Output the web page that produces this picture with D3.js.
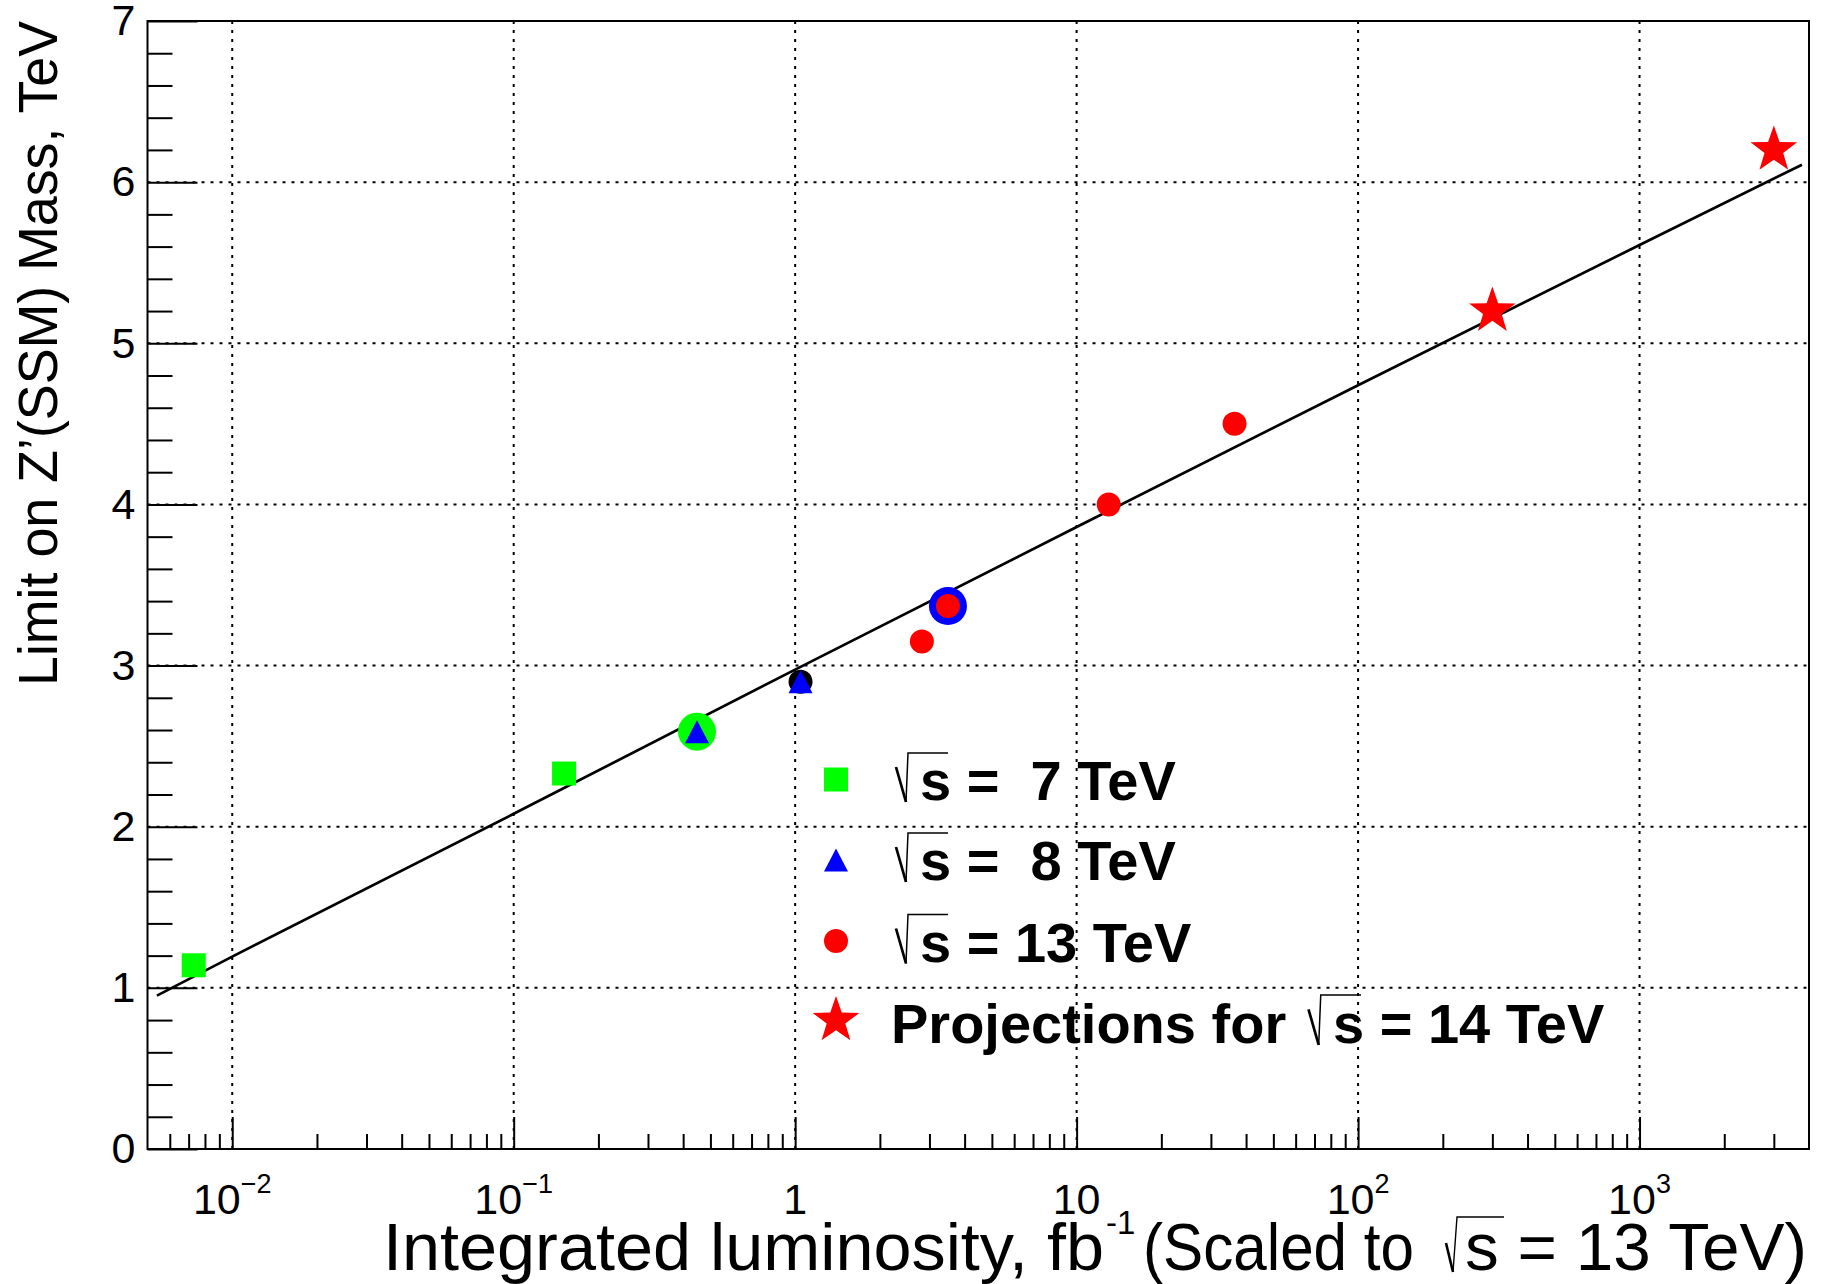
<!DOCTYPE html>
<html>
<head>
<meta charset="utf-8">
<script src="https://cdn.jsdelivr.net/npm/d3@7"></script>
<style>
  body { margin: 0; background: #fff; }
  svg text { font-family: "Liberation Sans", Arial, Helvetica, sans-serif; }
</style>
</head>
<body>
<svg id="chart" width="1823" height="1284"></svg>
<script>
// Z'(SSM) mass limits versus integrated luminosity (scaled to sqrt(s) = 13 TeV)
const lumi7 = [0.0073, 0.151];
const limit7 = [1.14, 2.33];
const lumi8 = [0.448, 1.045];
const limit8 = [2.59, 2.90];
const lumi13 = [2.82, 3.49, 13.0, 36.4];
const limit13 = [3.15, 3.37, 4.00, 4.50];
const lumi14 = [300, 3000];
const limit14 = [5.20, 6.20];

// encircled results (big green ring, black dot, big blue ring)
const ringLumi = [0.448, 1.045, 3.49];
const ringLimit = [2.59, 2.90, 3.37];
const ringKind = ["green", "black", "blue"];

// trend curve through the limits
const fitLumi = [0.0054, 0.01, 0.1, 1, 10, 100, 1000, 3776];
const fitLimit = [0.952, 1.194, 2.08, 2.975, 3.86, 4.74, 5.61, 6.108];

// axis ticks
const decadeExp = [-2, -1, 0, 1, 2, 3];
const decadeBase = ["10", "10", "1", "10", "10", "10"];
const decadeSup = ["\u22122", "\u22121", "", "", "2", "3"];
const yTicks = [0, 1, 2, 3, 4, 5, 6, 7];

// legend
const legendEnergy = [" 7", " 8", "13", "14"];

const svg = d3.select("#chart");
const L = 147.5, R = 1809, T = 21, B = 1149;

const x = d3.scaleLog().domain([0.005, 4000]).range([L, R]);
const y = d3.scaleLinear().domain([0, 7]).range([B, T]);

// ---- grid ----
const grid = svg.append("g").attr("stroke", "#000").attr("stroke-width", 2)
  .attr("stroke-dasharray", "3 6");
grid.selectAll("line.gx").data(decadeExp).join("line")
  .attr("x1", d => x(Math.pow(10, d))).attr("x2", d => x(Math.pow(10, d)))
  .attr("y1", B).attr("y2", T);
grid.selectAll("line.gy").data(yTicks.filter(v => v > 0 && v < 7)).join("line")
  .attr("class", "gy")
  .attr("x1", L).attr("x2", R)
  .attr("y1", d => y(d)).attr("y2", d => y(d));

// ---- trend curve ----
const fitPts = fitLumi.map((v, i) => [v, fitLimit[i]]);
svg.append("path").datum(fitPts)
  .attr("fill", "none").attr("stroke", "#000").attr("stroke-width", 2.7)
  .attr("d", d3.line().x(d => x(d[0])).y(d => y(d[1])));

// ---- markers ----
const zip = (a, b) => a.map((v, i) => [v, b[i]]);
const ringColor = { green: "#00ff00", black: "#000000", blue: "#0000ff" };
const ringRadius = { green: 19, black: 12, blue: 19 };

function trianglePath(cx, cy, w, h) {
  return `M${cx},${cy - h / 2}L${cx + w / 2},${cy + h / 2}L${cx - w / 2},${cy + h / 2}Z`;
}
function starPath(cx, cy, ro, ri) {
  let p = "";
  for (let k = 0; k < 10; k++) {
    const r = k % 2 === 0 ? ro : ri;
    const a = -Math.PI / 2 + k * Math.PI / 5;
    p += (k === 0 ? "M" : "L") + (cx + r * Math.cos(a)).toFixed(2) + "," + (cy + r * Math.sin(a)).toFixed(2);
  }
  return p + "Z";
}

const marks = svg.append("g");
// rings first, so the inner markers sit on top
marks.selectAll("circle.ring").data(ringLumi.map((v, i) => [v, ringLimit[i], ringKind[i]])).join("circle")
  .attr("cx", d => x(d[0])).attr("cy", d => y(d[1]))
  .attr("r", d => ringRadius[d[2]]).attr("fill", d => ringColor[d[2]]);

marks.selectAll("rect.s7").data(zip(lumi7, limit7)).join("rect")
  .attr("x", d => x(d[0]) - 12).attr("y", d => y(d[1]) - 12)
  .attr("width", 24).attr("height", 24).attr("fill", "#00ff00");

marks.selectAll("path.s8").data(zip(lumi8, limit8)).join("path")
  .attr("d", d => trianglePath(x(d[0]), y(d[1]), 24, 23)).attr("fill", "#0000ff");

marks.selectAll("circle.s13").data(zip(lumi13, limit13)).join("circle")
  .attr("cx", d => x(d[0])).attr("cy", d => y(d[1])).attr("r", 12).attr("fill", "#ff0000");

marks.selectAll("path.s14").data(zip(lumi14, limit14)).join("path")
  .attr("d", d => starPath(x(d[0]), y(d[1]), 24.5, 9.8)).attr("fill", "#ff0000");

// ---- frame ----
svg.append("rect").attr("x", L).attr("y", T).attr("width", R - L).attr("height", B - T)
  .attr("fill", "none").attr("stroke", "#000").attr("stroke-width", 2);

// ---- axes ticks ----
const minorX = [];
for (let e = -3; e <= 3; e++) for (let m = 2; m <= 9; m++) {
  const v = m * Math.pow(10, e);
  if (v > 0.005 && v < 4000) minorX.push(v);
}
function styleAxis(g) {
  g.select(".domain").remove();
  g.selectAll(".tick line").attr("stroke", "#000").attr("stroke-width", 2);
}
svg.append("g").attr("transform", `translate(0,${B})`)
  .call(d3.axisBottom(x).tickValues(decadeExp.map(e => Math.pow(10, e))).tickSize(-32).tickFormat(""))
  .call(styleAxis);
svg.append("g").attr("transform", `translate(0,${B})`)
  .call(d3.axisBottom(x).tickValues(minorX).tickSize(-15).tickFormat(""))
  .call(styleAxis);

const minorY = d3.range(0, 35).map(i => i * 0.2).filter((v, i) => i % 5 !== 0);
svg.append("g").attr("transform", `translate(${L},0)`)
  .call(d3.axisLeft(y).tickValues(minorY).tickSize(-25).tickFormat(""))
  .call(styleAxis);
const yAx = svg.append("g").attr("transform", `translate(${L},0)`)
  .call(d3.axisLeft(y).tickValues(yTicks).tickSize(-50).tickPadding(12).tickFormat(d3.format("d")))
  .call(styleAxis);
yAx.selectAll(".tick text").attr("font-size", 43).attr("fill", "#000")
  .attr("font-family", "'Liberation Sans', Arial, sans-serif");

// x tick labels with superscript exponents
const xl = svg.append("g");
decadeExp.forEach((e, i) => {
  const t = xl.append("text").attr("x", x(Math.pow(10, e))).attr("y", 1214)
    .attr("text-anchor", "middle").attr("font-size", 43).attr("fill", "#000");
  t.append("tspan").text(decadeBase[i]);
  if (decadeSup[i]) t.append("tspan").attr("font-size", 27).attr("dy", -21).text(decadeSup[i]);
});

// radical sign drawn as strokes
function radical(g, sx, base, h, w, lw) {
  g.append("path")
    .attr("d", `M${sx - 24 * h / 47},${base - 33 * h / 47}L${sx - 14 * h / 47},${base + 2}`)
    .attr("stroke", "#000").attr("stroke-width", lw * 1.8).attr("fill", "none");
  g.append("path")
    .attr("d", `M${sx - 14 * h / 47},${base + 2}L${sx - 12 * h / 47},${base - h}L${sx + w},${base - h}`)
    .attr("stroke", "#000").attr("stroke-width", lw).attr("fill", "none");
}

// ---- axis titles ----
svg.append("text")
  .attr("transform", "translate(57,21) rotate(-90)")
  .attr("text-anchor", "end").attr("font-size", 56)
  .attr("textLength", 665).attr("lengthAdjust", "spacingAndGlyphs")
  .text("Limit on Z\u2019(SSM) Mass, TeV");

const xt = svg.append("g");
xt.append("text").attr("x", 383).attr("y", 1270).attr("font-size", 66)
  .attr("textLength", 721).attr("lengthAdjust", "spacingAndGlyphs")
  .text("Integrated luminosity, fb");
xt.append("text").attr("x", 1106).attr("y", 1234).attr("font-size", 33)
  .text("-1");
xt.append("text").attr("x", 1143).attr("y", 1270).attr("font-size", 66)
  .attr("textLength", 271).attr("lengthAdjust", "spacingAndGlyphs")
  .text("(Scaled to");
xt.append("path")
  .attr("d", "M1446,1243L1453,1272").attr("stroke", "#000").attr("stroke-width", 2.6).attr("fill", "none");
xt.append("path")
  .attr("d", "M1453,1272L1457,1217L1504,1217").attr("stroke", "#000").attr("stroke-width", 1.4).attr("fill", "none");
xt.append("text").attr("x", 1465).attr("y", 1270).attr("font-size", 66)
  .attr("textLength", 342).attr("lengthAdjust", "spacingAndGlyphs")
  .text("s = 13 TeV)");

// ---- legend ----
const leg = svg.append("g");
const legMarkX = 836;
const rowBase = [800, 880, 961.5, 1043];
const rowMark = [779.5, 860, 941, 1020.5];

leg.append("rect").attr("x", legMarkX - 12).attr("y", rowMark[0] - 12)
  .attr("width", 24).attr("height", 24).attr("fill", "#00ff00");
leg.append("path").attr("d", trianglePath(legMarkX, rowMark[1], 24, 23)).attr("fill", "#0000ff");
leg.append("circle").attr("cx", legMarkX).attr("cy", rowMark[2]).attr("r", 12).attr("fill", "#ff0000");
leg.append("path").attr("d", starPath(legMarkX, rowMark[3], 24.5, 9.8)).attr("fill", "#ff0000");

for (let i = 0; i < 3; i++) {
  radical(leg, 920, rowBase[i], 47, 28, 1.5);
  leg.append("text").attr("x", 920).attr("y", rowBase[i])
    .attr("font-size", 56).attr("font-weight", "bold")
    .style("white-space", "pre")
    .text(`s = ${legendEnergy[i]} TeV`);
}
leg.append("text").attr("x", 891).attr("y", rowBase[3])
  .attr("font-size", 56).attr("font-weight", "bold")
  .text("Projections for");
radical(leg, 1333, rowBase[3], 48, 28, 1.5);
leg.append("text").attr("x", 1333).attr("y", rowBase[3])
  .attr("font-size", 56).attr("font-weight", "bold")
  .style("white-space", "pre")
  .text(`s = ${legendEnergy[3]} TeV`);
</script>
</body>
</html>
